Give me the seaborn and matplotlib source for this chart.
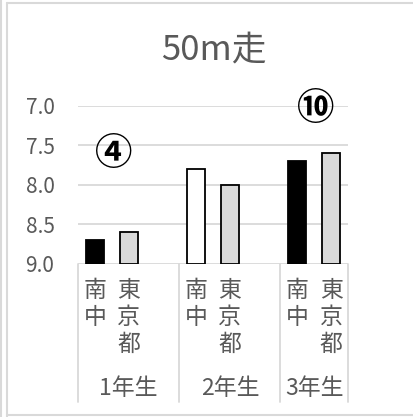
import matplotlib
matplotlib.use("Agg")
import matplotlib.pyplot as plt
import matplotlib.transforms as mtransforms
from matplotlib.lines import Line2D
import pandas as pd
import seaborn as sns

# 50m走の平均タイム（秒）
grades = ["1年生", "2年生", "3年生"]
schools = ["南中", "東京都"]
nanchu_times = [8.7, 7.8, 7.7]
tokyo_times = [8.6, 8.0, 7.6]
nanchu_colors = ["#000000", "#ffffff", "#000000"]
tokyo_color = "#d9d9d9"
school_labels = ["南\n中", "東\n京\n都"]
marks = {0: "④", 2: "⑩"}
mark_levels = {0: 7.61, 2: 7.04}
y_ticks = [7.0, 7.5, 8.0, 8.5, 9.0]
base_time = 9.0  # value axis is reversed; bars rise from 9.0 秒

sns.set_theme(style="white")
plt.rcParams["font.family"] = ["Noto Sans CJK JP", "DejaVu Sans"]
TEXT = "#595959"
GRID = "#d9d9d9"

rows = []
order = []
palette = {}
for i, g in enumerate(grades):
    for s, t in zip(schools, [nanchu_times[i], tokyo_times[i]]):
        key = f"{g}|{s}"
        rows.append({"slot": key, "time": t})
        order.append(key)
        palette[key] = nanchu_colors[i] if s == "南中" else tokyo_color
    if i < len(grades) - 1:
        order.append(f"{g}|")
df = pd.DataFrame(rows)
df["height"] = df["time"] - base_time

fig = plt.figure(figsize=(4.14, 4.17), dpi=100)
ax = fig.add_axes([78 / 414, 1 - 264 / 417, 270 / 414, (264 - 105.7) / 417])

sns.barplot(data=df, x="slot", y="height", hue="slot", order=order,
            hue_order=list(palette.keys()), palette=palette, legend=False,
            width=0.53, edgecolor="#000000", linewidth=1.3, ax=ax,
            saturation=1, zorder=3, bottom=base_time)

ax.set_ylim(9.0, 7.0)
ax.set_xlim(-0.5, len(order) - 0.5)
ax.set_yticks(y_ticks)
ax.set_yticklabels([f"{v:.1f}" for v in y_ticks], color=TEXT, fontsize=15)
ax.tick_params(axis="y", length=0, pad=17)
ax.yaxis.grid(True, color=GRID, linewidth=1.3, zorder=0)
ax.set_axisbelow(True)
for sp in ax.spines.values():
    sp.set_visible(False)
ax.set_xlabel("")
ax.set_ylabel("")

# school labels stacked vertically under each bar
positions = [order.index(r["slot"]) for r in rows]
labels = [school_labels[schools.index(r["slot"].split("|")[1])] for r in rows]
ax.set_xticks(positions)
ax.set_xticklabels(labels, color=TEXT, fontsize=16.5, linespacing=1.2, va="top")
ax.tick_params(axis="x", length=0, pad=11)

# grade group labels and separators
trans = mtransforms.blended_transform_factory(ax.transData, ax.transAxes)
bounds = [-0.5]
for i, g in enumerate(grades):
    slots = [k for k, key in enumerate(order) if key.startswith(g)]
    lo, hi = min(slots) - 0.5, max(slots) + 0.5
    bounds.append(hi)
    ax.text((lo + hi) / 2, -0.785, g, transform=trans, ha="center", va="center",
            color=TEXT, fontsize=16.5)
for b in bounds:
    ax.add_line(Line2D([b, b], [0, -0.872], transform=trans, color=GRID,
                       linewidth=1.3, clip_on=False))

# circled ranking marks
for i, m in marks.items():
    xs = [order.index(f"{grades[i]}|{s}") for s in schools]
    ax.text(sum(xs) / 2 + 0.05, mark_levels[i], m, ha="center", va="center",
            fontsize=27, fontweight="bold", color="#000000", zorder=4)

fig.text(214 / 414, 1 - 50 / 417, "50m走", ha="center", va="center",
         color=TEXT, fontsize=25)

# chart frame
fig.add_artist(Line2D([7 / 414, 7 / 414], [0.5 / 417, 414 / 417],
                      transform=fig.transFigure, color=GRID, linewidth=1.5))
fig.add_artist(Line2D([7 / 414, 1], [414 / 417, 414 / 417],
                      transform=fig.transFigure, color=GRID, linewidth=1.5))
fig.add_artist(Line2D([7 / 414, 1], [2 / 417, 2 / 417],
                      transform=fig.transFigure, color=GRID, linewidth=1.5))
fig.add_artist(Line2D([1.5 / 414, 1.5 / 414], [0, 1],
                      transform=fig.transFigure, color=GRID, linewidth=1.5))

fig.savefig("out.png", dpi=100, facecolor="white")
